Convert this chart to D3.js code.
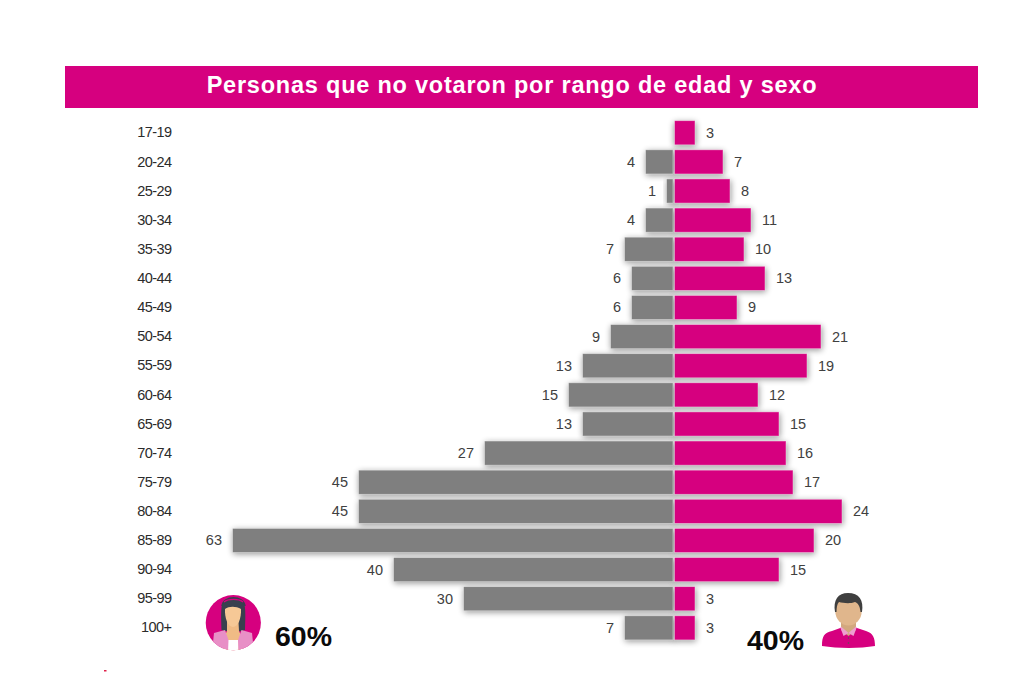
<!DOCTYPE html>
<html><head><meta charset="utf-8">
<script src="https://cdn.jsdelivr.net/npm/d3@7"></script>
<style>html,body{margin:0;padding:0;background:#fff}svg{display:block}text{font-family:"Liberation Sans",Arial,sans-serif}</style>
</head><body><div id="c"></div>
<script>
const titleText = "Personas que no votaron por rango de edad y sexo";
const ageGroups = ["17-19","20-24","25-29","30-34","35-39","40-44","45-49","50-54","55-59","60-64","65-69","70-74","75-79","80-84","85-89","90-94","95-99","100+"];
const womenValues = [0,4,1,4,7,6,6,9,13,15,13,27,45,45,63,40,30,7];
const menValues = [3,7,8,11,10,13,9,21,19,12,15,16,17,24,20,15,3,3];
const womenShare = "60%";
const menShare = "40%";
const pink = "#d6007f", gray = "#7f7f7f";

const svg = d3.select("#c").append("svg").attr("width",1024).attr("height",684);
const defs = svg.append("defs");
const f = defs.append("filter").attr("id","sh").attr("x","-40%").attr("y","-50%").attr("width","180%").attr("height","200%");
f.append("feGaussianBlur").attr("stdDeviation",3.4);

// title banner
svg.append("rect").attr("x",65).attr("y",66).attr("width",913).attr("height",42).attr("fill",pink);
svg.append("text").attr("x",512).attr("y",93).attr("text-anchor","middle").attr("fill","#fff")
  .attr("font-size",23.5).attr("font-weight",700).attr("letter-spacing",0.78).text(titleText);

const x = d3.scaleLinear().domain([-63,24]).range([233,842]);
const y = d3.scaleBand().domain(ageGroups).range([118.2,642.4]).paddingInner(0.17).paddingOuter(0.085);
const cx = x(0);

const yAxis = d3.axisLeft(y).tickSize(0).tickPadding(0);
const ax = svg.append("g").attr("transform","translate(171.5,0)").call(yAxis);
ax.select(".domain").remove();
ax.selectAll("text").attr("font-size",14.5).attr("fill","#2b2b2b").attr("font-family",'"Liberation Sans",Arial,sans-serif').attr("letter-spacing",-0.55);

const rows = ageGroups.map((a,i)=>({a,w:womenValues[i],m:menValues[i]}));
const g = svg.append("g");
// soft shadows
g.selectAll(".sw").data(rows.filter(d=>d.w>0)).join("rect").attr("fill","#000").attr("opacity",.42).attr("filter","url(#sh)")
  .attr("x",d=>x(-d.w)).attr("y",d=>y(d.a)+1.5).attr("width",d=>cx-x(-d.w)+1).attr("height",y.bandwidth());
g.selectAll(".sm").data(rows).join("rect").attr("fill","#000").attr("opacity",.42).attr("filter","url(#sh)")
  .attr("x",cx).attr("y",d=>y(d.a)+1.5).attr("width",d=>x(d.m)-cx+1).attr("height",y.bandwidth());
// bars
g.selectAll(".bw").data(rows.filter(d=>d.w>0)).join("rect").attr("fill",gray).attr("stroke","#fff").attr("stroke-opacity",.5).attr("stroke-width",.8)
  .attr("x",d=>x(-d.w)-.5).attr("y",d=>y(d.a)).attr("width",d=>cx-x(-d.w)-.5).attr("height",y.bandwidth());
g.selectAll(".bm").data(rows).join("rect").attr("fill",pink).attr("stroke","#fff").attr("stroke-opacity",.5).attr("stroke-width",.8)
  .attr("x",cx+.5).attr("y",d=>y(d.a)).attr("width",d=>x(d.m)-cx-.5).attr("height",y.bandwidth());
// value labels
g.selectAll(".lw").data(rows.filter(d=>d.w>0)).join("text").attr("text-anchor","end").attr("font-size",14.5).attr("fill","#404040")
  .attr("x",d=>x(-d.w)-11).attr("y",d=>y(d.a)+y.bandwidth()/2+5).text(d=>d.w);
g.selectAll(".lm").data(rows).join("text").attr("text-anchor","start").attr("font-size",14.5).attr("fill","#404040")
  .attr("x",d=>x(d.m)+11).attr("y",d=>y(d.a)+y.bandwidth()/2+5).text(d=>d.m);

// share labels
svg.append("text").attr("x",275).attr("y",646).attr("font-size",28.5).attr("font-weight",700).attr("fill","#0a0a0a").text(womenShare);
svg.append("text").attr("x",747).attr("y",650).attr("font-size",28.5).attr("font-weight",700).attr("fill","#0a0a0a").text(menShare);

// woman icon
const wi = svg.append("g");
const clipW = defs.append("clipPath").attr("id","cw"); clipW.append("circle").attr("cx",233.3).attr("cy",622.7).attr("r",27.6);
wi.append("circle").attr("cx",233.3).attr("cy",622.7).attr("r",27.6).attr("fill",pink);
const wc = wi.append("g").attr("clip-path","url(#cw)");
wc.append("path").attr("d","M221.5 630 C221 615 220.5 604 224 601 C229 597 238 597 242.5 601 C246 604 245.5 615 245 630 C241 632 225 632 221.5 630Z").attr("fill","#39404f");
wc.append("path").attr("d","M222 606 C223 595 244 595 245 606").attr("fill","none").attr("stroke","#39404f").attr("stroke-width",1.4);
wc.append("path").attr("d","M224 602 C228 598.5 239 598.5 243 602").attr("fill","none").attr("stroke",pink).attr("stroke-width",1.3);
wc.append("path").attr("d","M227 622 L238.5 622 L239 631 L243 640 L243 652 L223 652 L223 640 L227 631Z").attr("fill","#f0bb85");
wc.append("path").attr("d","M225 609 C229 606 236 606 241 609 C241.5 618 238 627 233 627 C228 627 224.5 618 225 609Z").attr("fill","#f6c896");
wc.append("rect").attr("x",228).attr("y",640).attr("width",10.5).attr("height",12).attr("fill","#fff");
wc.append("path").attr("d","M214 633 L225 630 L228.5 640 L228 652 L212 652Z").attr("fill","#e88fc6");
wc.append("path").attr("d","M252 633 L241.5 630 L238 640 L238.5 652 L254 652Z").attr("fill","#e88fc6");

// man icon
const mi = svg.append("g");
mi.append("path").attr("d","M822 646 C822 636 824 633 832 631 L843 627 L854 627 L866 631 C873 633 875 638 875 646 C860 648.5 838 648.5 822 646Z").attr("fill",pink);
mi.append("path").attr("d","M841 615 L856 615 L856 630 L848.5 636 L841 630Z").attr("fill","#d2a87e");
mi.append("path").attr("d","M841 626.5 L848.5 633 L843.5 636 L840.5 628Z M856 626.5 L848.5 633 L853.5 636 L856.5 628Z").attr("fill","#ee9fd0");
mi.append("circle").attr("cx",848.5).attr("cy",638).attr("r",.8).attr("fill","#555");
mi.append("circle").attr("cx",848.5).attr("cy",643).attr("r",.8).attr("fill","#555");
mi.append("ellipse").attr("cx",848.5).attr("cy",611).attr("rx",13.2).attr("ry",14.5).attr("fill","#e0b68c");
mi.append("path").attr("d","M835 612 C833 600 838 593 848 593 C859 593 864 600 862 612 L860.5 612 C860 606 858 603 855 602 C850 604 843 603 839 602 C837 604 836.5 608 836.5 612Z").attr("fill","#3f3f3f");

// small stray mark at the bottom left
svg.append("rect").attr("x",104).attr("y",670).attr("width",2.5).attr("height",1.5).attr("fill","#e0204a");
</script></body></html>
